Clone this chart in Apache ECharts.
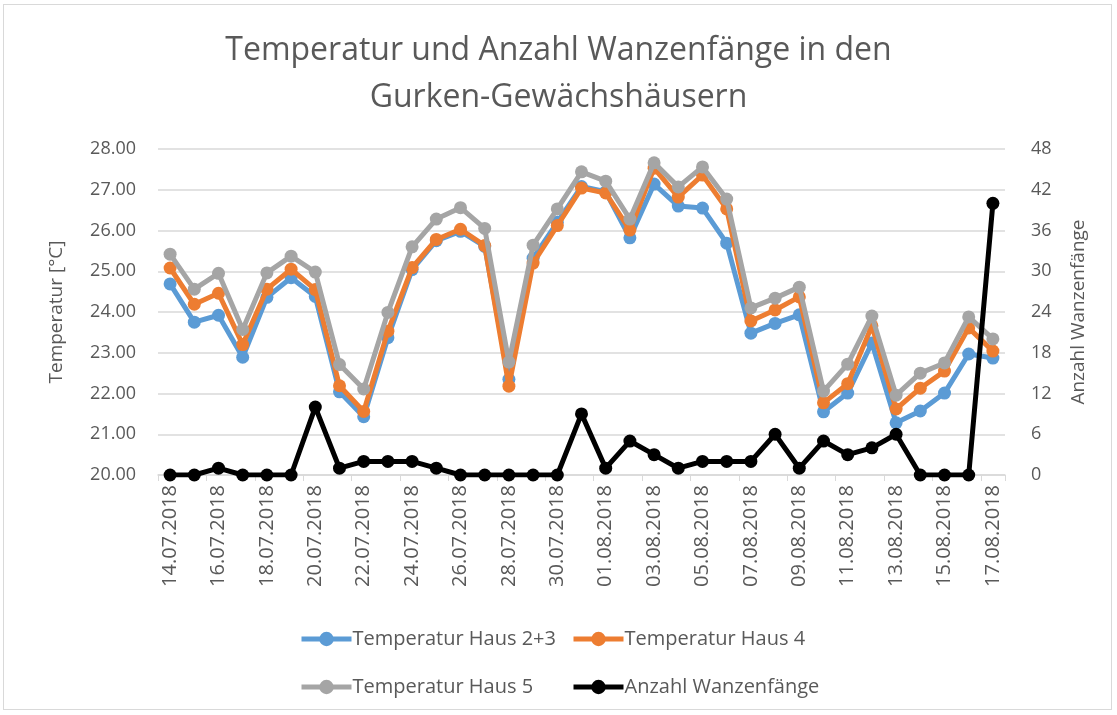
<!DOCTYPE html>
<html><head><meta charset="utf-8">
<script src="https://cdn.jsdelivr.net/npm/echarts@6/dist/echarts.min.js"></script>
<style>
html,body{margin:0;padding:0;background:#fff;}
#c{position:absolute;left:0;top:0;width:1117px;height:715px;}
#frame{position:absolute;left:3px;top:4px;width:1109px;height:706px;border:1.5px solid #d9d9d9;box-sizing:border-box;pointer-events:none;}
</style></head>
<body>
<div id="c"></div><div id="frame"></div>
<script>
const categories = ['14.07.2018','15.07.2018','16.07.2018','17.07.2018','18.07.2018','19.07.2018','20.07.2018','21.07.2018','22.07.2018','23.07.2018','24.07.2018','25.07.2018','26.07.2018','27.07.2018','28.07.2018','29.07.2018','30.07.2018','31.07.2018','01.08.2018','02.08.2018','03.08.2018','04.08.2018','05.08.2018','06.08.2018','07.08.2018','08.08.2018','09.08.2018','10.08.2018','11.08.2018','12.08.2018','13.08.2018','14.08.2018','15.08.2018','16.08.2018','17.08.2018'];
const haus23 = [24.69,23.75,23.92,22.89,24.36,24.84,24.38,22.04,21.43,23.37,25.04,25.75,25.98,25.61,22.35,25.32,26.20,27.08,26.95,25.82,27.14,26.60,26.55,25.69,23.48,23.72,23.93,21.55,22.01,23.24,21.28,21.57,22.01,22.97,22.87];
const haus4  = [25.08,24.19,24.46,23.20,24.56,25.05,24.55,22.19,21.56,23.53,25.09,25.78,26.03,25.63,22.18,25.20,26.12,27.04,26.92,26.01,27.53,26.82,27.36,26.53,23.78,24.05,24.37,21.77,22.24,23.66,21.62,22.13,22.55,23.61,23.04];
const haus5  = [25.42,24.56,24.95,23.57,24.96,25.37,24.98,22.71,22.11,23.99,25.60,26.28,26.56,26.05,22.77,25.64,26.53,27.44,27.21,26.28,27.66,27.07,27.56,26.77,24.10,24.34,24.61,22.06,22.72,23.90,21.96,22.50,22.75,23.88,23.34];
const wanzen = [0,0,1,0,0,0,10,1,2,2,2,1,0,0,0,0,0,9,1,5,3,1,2,2,2,6,1,5,3,4,6,0,0,0,40];
const names = ['Temperatur Haus 2+3','Temperatur Haus 4','Temperatur Haus 5','Anzahl Wanzenfänge'];
const colors = ['#5B9BD5','#ED7D31','#A5A5A5','#000000'];

const FONT = 'Open Sans';
const TXT = '#595959';
const chart = echarts.init(document.getElementById('c'), null, {renderer:'canvas'});
function mkSeries(i, data, yIdx, z){
  return {name:names[i], type:'line', data:data, yAxisIndex:yIdx, z:z,
    symbol:'circle', symbolSize:13, showSymbol:true,
    lineStyle:{width:5, color:colors[i]}, itemStyle:{color:colors[i]},
    emphasis:{disabled:true}, animation:false};
}
const legendCommon = {orient:'vertical', itemGap:28, itemWidth:50, itemHeight:18,
  lineStyle:{width:5},
  textStyle:{color:TXT, fontFamily:FONT, fontSize:20, padding:[0,0,0,-4]}};
chart.setOption({
  animation:false,
  backgroundColor:'#fff',
  title:{text:'Temperatur und Anzahl Wanzenfänge in den\nGurken-Gewächshäusern', left:'center', top:22,
    textStyle:{color:TXT, fontFamily:FONT, fontSize:32, fontWeight:'normal', lineHeight:47}},
  legend:[
    Object.assign({left:294, top:624, data:[names[0],names[2]]}, legendCommon),
    Object.assign({left:566, top:624, data:[names[1],names[3]]}, legendCommon)
  ],
  grid:{left:158, right:112, top:149, bottom:240, containLabel:false},
  xAxis:{type:'category', data:categories, boundaryGap:true,
    axisLine:{lineStyle:{color:'#d9d9d9', width:1.5}},
    axisTick:{show:true, interval:1, length:6, lineStyle:{color:'#d9d9d9'}},
    axisLabel:{interval:1, rotate:90, color:TXT, fontFamily:FONT, fontSize:20, margin:10}},
  yAxis:[
    {type:'value', min:20, max:28, interval:1, position:'left',
     name:'Temperatur [°C]', nameLocation:'middle', nameRotate:90, nameGap:92,
     nameTextStyle:{color:TXT, fontFamily:FONT, fontSize:19},
     axisLine:{show:false}, axisTick:{show:false},
     axisLabel:{color:TXT, fontFamily:FONT, fontSize:18, margin:22, formatter:v=>v.toFixed(2)},
     splitLine:{lineStyle:{color:'#d9d9d9', width:1.5}}},
    {type:'value', min:0, max:48, interval:6, position:'right',
     name:'Anzahl Wanzenfänge', nameLocation:'middle', nameRotate:90, nameGap:64,
     nameTextStyle:{color:TXT, fontFamily:FONT, fontSize:19},
     axisLine:{show:false}, axisTick:{show:false}, splitLine:{show:false},
     axisLabel:{color:TXT, fontFamily:FONT, fontSize:18, margin:26}}
  ],
  series:[
    mkSeries(0, haus23, 0, 2),
    mkSeries(1, haus4, 0, 3),
    mkSeries(2, haus5, 0, 4),
    mkSeries(3, wanzen, 1, 5)
  ]
});
</script>
</body></html>
